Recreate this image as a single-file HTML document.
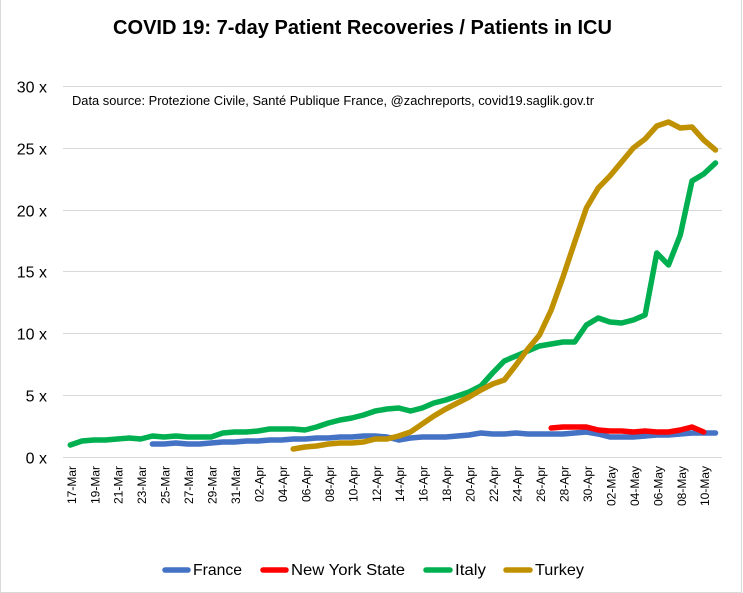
<!DOCTYPE html>
<html><head><meta charset="utf-8"><style>
html,body{margin:0;padding:0;background:#fff;}
svg{display:block;}
text{font-family:"Liberation Sans",Arial,sans-serif;fill:#000;}
</style></head><body>
<svg width="743" height="593" viewBox="0 0 743 593" xmlns="http://www.w3.org/2000/svg">
<rect x="0" y="0" width="743" height="593" fill="#fff"/>
<line x1="0.5" y1="0" x2="0.5" y2="593" stroke="#D9D9D9" stroke-width="1"/>
<line x1="741.5" y1="0" x2="741.5" y2="593" stroke="#D9D9D9" stroke-width="1"/>
<line x1="0" y1="592.5" x2="742" y2="592.5" stroke="#D9D9D9" stroke-width="1"/>

<text x="113" y="34" font-size="20" font-weight="bold" textLength="499" lengthAdjust="spacingAndGlyphs">COVID 19: 7-day Patient Recoveries / Patients in ICU</text>

<g stroke="#D9D9D9" stroke-width="1">
<line x1="63" y1="86.5" x2="722" y2="86.5"/>
<line x1="63" y1="148.5" x2="722" y2="148.5"/>
<line x1="63" y1="210.5" x2="722" y2="210.5"/>
<line x1="63" y1="271.5" x2="722" y2="271.5"/>
<line x1="63" y1="333.5" x2="722" y2="333.5"/>
<line x1="63" y1="395.5" x2="722" y2="395.5"/>
<line x1="63" y1="457.5" x2="722" y2="457.5"/>
</g>

<g font-size="16" text-anchor="end">
<text x="47" y="92.5">30 x</text>
<text x="47" y="154.5">25 x</text>
<text x="47" y="216.5">20 x</text>
<text x="47" y="277.5">15 x</text>
<text x="47" y="339.5">10 x</text>
<text x="47" y="401.5">5 x</text>
<text x="47" y="463.5">0 x</text>
</g>

<text x="72" y="105" font-size="13" textLength="522" lengthAdjust="spacingAndGlyphs">Data source: Protezione Civile, Santé Publique France, @zachreports, covid19.saglik.gov.tr</text>

<g font-size="12" text-anchor="end">
<text transform="translate(75.8,466) rotate(-90)">17-Mar</text>
<text transform="translate(99.3,466) rotate(-90)">19-Mar</text>
<text transform="translate(122.7,466) rotate(-90)">21-Mar</text>
<text transform="translate(146.2,466) rotate(-90)">23-Mar</text>
<text transform="translate(169.6,466) rotate(-90)">25-Mar</text>
<text transform="translate(193.1,466) rotate(-90)">27-Mar</text>
<text transform="translate(216.6,466) rotate(-90)">29-Mar</text>
<text transform="translate(240.0,466) rotate(-90)">31-Mar</text>
<text transform="translate(263.5,466) rotate(-90)">02-Apr</text>
<text transform="translate(286.9,466) rotate(-90)">04-Apr</text>
<text transform="translate(310.4,466) rotate(-90)">06-Apr</text>
<text transform="translate(333.9,466) rotate(-90)">08-Apr</text>
<text transform="translate(357.3,466) rotate(-90)">10-Apr</text>
<text transform="translate(380.8,466) rotate(-90)">12-Apr</text>
<text transform="translate(404.2,466) rotate(-90)">14-Apr</text>
<text transform="translate(427.7,466) rotate(-90)">16-Apr</text>
<text transform="translate(451.2,466) rotate(-90)">18-Apr</text>
<text transform="translate(474.6,466) rotate(-90)">20-Apr</text>
<text transform="translate(498.1,466) rotate(-90)">22-Apr</text>
<text transform="translate(521.5,466) rotate(-90)">24-Apr</text>
<text transform="translate(545.0,466) rotate(-90)">26-Apr</text>
<text transform="translate(568.5,466) rotate(-90)">28-Apr</text>
<text transform="translate(591.9,466) rotate(-90)">30-Apr</text>
<text transform="translate(615.4,466) rotate(-90)">02-May</text>
<text transform="translate(638.8,466) rotate(-90)">04-May</text>
<text transform="translate(662.3,466) rotate(-90)">06-May</text>
<text transform="translate(685.8,466) rotate(-90)">08-May</text>
<text transform="translate(709.2,466) rotate(-90)">10-May</text>
</g>

<g fill="none" stroke-width="5.5" stroke-linejoin="round" stroke-linecap="round">
<!-- France -->
<polyline stroke="#4472C4" points="152.4,444 164.1,444 175.9,443 187.6,444 199.3,444 211.1,443 222.8,442 234.5,442 246.3,441 258.0,441 269.7,440 281.4,440 293.2,439 304.9,439 316.6,438 328.4,438 340.1,437 351.8,437 363.6,436 375.3,436 387.0,437 398.7,440 410.5,438 422.2,437 433.9,437 445.7,437 457.4,436 469.1,435 480.9,433 492.6,434 504.3,434 516.0,433 527.8,434 539.5,434 551.2,434 563.0,434 574.7,433 586.4,432 598.2,434 609.9,437 621.6,437 633.3,437 645.1,436 656.8,435 668.5,435 680.3,434 692.0,433 703.7,433 715.5,433"/>
<!-- New York State -->
<polyline stroke="#FF0000" points="551.2,428 563.0,427 574.7,427 586.4,427 598.2,430 609.9,431 621.6,431 633.3,432 645.1,431 656.8,432 668.5,432 680.3,430 692.0,427 703.7,432"/>
<!-- Italy -->
<polyline stroke="#00B050" points="70.3,445 82.0,441 93.8,440 105.5,440 117.2,439 129.0,438 140.7,439 152.4,436 164.1,437 175.9,436 187.6,437 199.3,437 211.1,437 222.8,433 234.5,432 246.3,432 258.0,431 269.7,429 281.4,429 293.2,429 304.9,430 316.6,427 328.4,423 340.1,420 351.8,418 363.6,415 375.3,411 387.0,409 398.7,408 410.5,411 422.2,408 433.9,403 445.7,400 457.4,396 469.1,392 480.9,386 492.6,373 504.3,361 516.0,356 527.8,351 539.5,346 551.2,344 563.0,342 574.7,342 586.4,325 598.2,318 609.9,322 621.6,323 633.3,320 645.1,315 656.8,253 668.5,265 680.3,235 692.0,181 703.7,174 715.5,163"/>
<!-- Turkey -->
<polyline stroke="#BF9000" points="293.2,449 304.9,447 316.6,446 328.4,444 340.1,443 351.8,443 363.6,442 375.3,439 387.0,439 398.7,436 410.5,432 422.2,424 433.9,416 445.7,409 457.4,403 469.1,397 480.9,390 492.6,384 504.3,380 516.0,365 527.8,349 539.5,335 551.2,310 563.0,277 574.7,242 586.4,208 598.2,188 609.9,176 621.6,162 633.3,148 645.1,139 656.8,126 668.5,122 680.3,128 692.0,127 703.7,140 715.5,150"/>
</g>

<g stroke-width="5.5" stroke-linecap="round">
<line x1="165" y1="570" x2="188" y2="570" stroke="#4472C4"/>
<line x1="263" y1="570" x2="286" y2="570" stroke="#FF0000"/>
<line x1="426" y1="570" x2="450" y2="570" stroke="#00B050"/>
<line x1="506" y1="570" x2="530" y2="570" stroke="#BF9000"/>
</g>
<g font-size="16">
<text x="193" y="575" textLength="49" lengthAdjust="spacingAndGlyphs">France</text>
<text x="291" y="575" textLength="114" lengthAdjust="spacingAndGlyphs">New York State</text>
<text x="455" y="575" textLength="31" lengthAdjust="spacingAndGlyphs">Italy</text>
<text x="535" y="575" textLength="49" lengthAdjust="spacingAndGlyphs">Turkey</text>
</g>
</svg>
</body></html>
